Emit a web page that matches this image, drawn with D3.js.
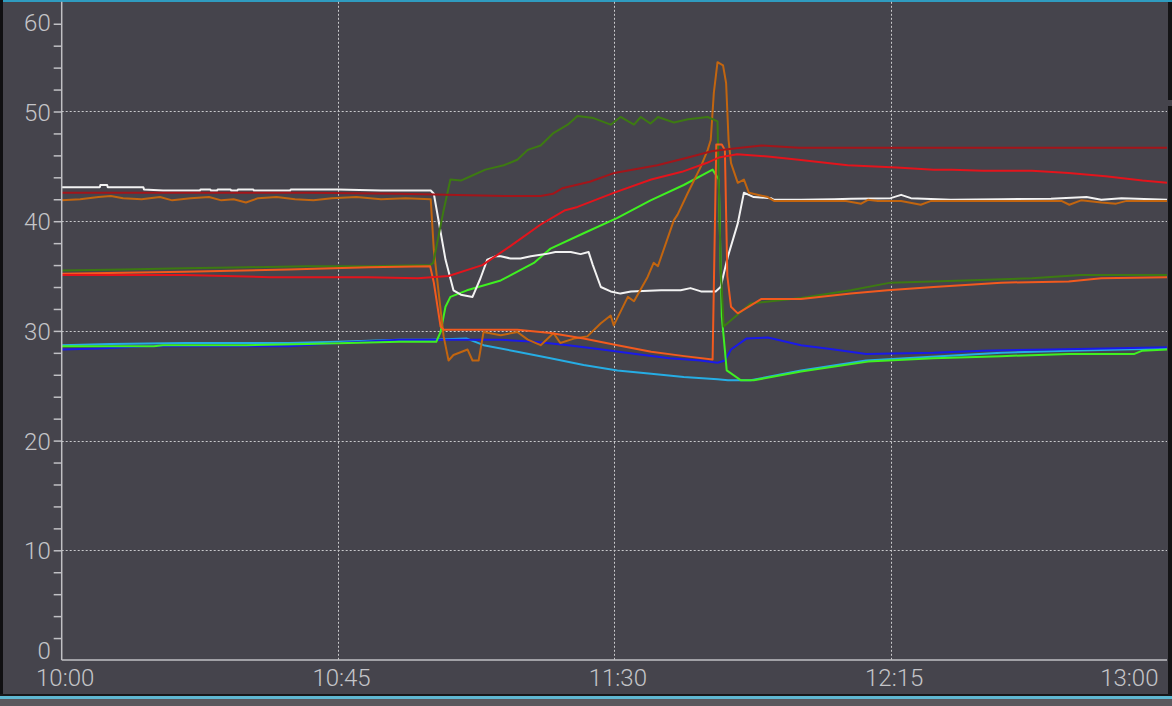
<!DOCTYPE html>
<html>
<head>
<meta charset="utf-8">
<script src="https://cdn.jsdelivr.net/npm/d3@7"></script>
<style>
  html, body { margin: 0; padding: 0; background: #45444c; overflow: hidden; }
  svg { display: block; }
  text { font-family: Roboto, "DejaVu Sans", sans-serif; font-weight: 300; }
</style>
</head>
<body>
<svg id="chart" width="1172" height="706"></svg>
<script>
// ---- data: [minutes after 10:00, value] ----
const xTickMinutes = [0, 45, 90, 135, 180];
const yTickValues = [0, 10, 20, 30, 40, 50, 60];

const seriesNames = ["cyan", "blue", "lime", "white", "brown", "darkGreen", "orangeRed", "red", "darkRed"];
const seriesColors = ["#26ade4", "#1a1ae8", "#3ff021", "#f2f2f2", "#c2650f", "#3d7a12", "#f25a1e", "#e3141c", "#a3151a"];

const cyan = [[0,28.7],[8,28.8],[20,28.9],[37,28.9],[45,29.0],[55,29.2],[60,29.2],[66,29.3],[68.7,28.7],[74.2,28.1],[79.6,27.5],[85,26.9],[90.5,26.4],[96,26.1],[101.3,25.8],[106.8,25.6],[108.5,25.5],[112.2,25.5],[120.4,26.4],[131,27.3],[153,28.0],[164,28.2],[180,28.4]];
const blue = [[0,28.3],[6,28.4],[14,28.6],[37,28.6],[45,28.9],[55,29.2],[60,29.2],[71.5,29.2],[77,29.0],[82.5,28.7],[88,28.3],[93.5,27.9],[99,27.5],[104,27.3],[106.8,27.1],[108,27.3],[109,28.3],[111.5,29.3],[115,29.4],[120.4,28.7],[125.8,28.3],[131,27.9],[142,28.0],[150,28.2],[161,28.3],[170,28.4],[180,28.5]];
const lime = [[0,28.6],[15,28.6],[16.5,28.7],[30,28.7],[40,28.8],[55,29.0],[61,29.0],[61.7,29.9],[62.5,32.2],[63.3,33.1],[66,33.7],[71.5,34.6],[76.9,36.2],[79.6,37.5],[85,38.9],[90.5,40.3],[95.9,41.9],[101.3,43.3],[106,44.7],[107,43.8],[107.5,31.3],[108.3,26.4],[110.6,25.5],[112.7,25.5],[120.4,26.3],[131.3,27.2],[142,27.5],[153,27.7],[164,27.9],[174.7,27.9],[176,28.2],[180,28.3]];
const white = [[0,43.1],[6.2,43.1],[6.3,43.3],[7.4,43.3],[7.5,43.1],[13.3,43.1],[13.4,42.9],[16.5,42.8],[22.5,42.8],[22.6,42.9],[24.2,42.9],[24.3,42.8],[25.3,42.8],[25.4,42.9],[27.5,42.9],[27.6,42.8],[28.6,42.8],[28.7,42.9],[31.2,42.9],[31.3,42.8],[37.2,42.8],[37.3,42.9],[45,42.9],[52,42.8],[60.1,42.8],[60.6,42.5],[62.5,36.5],[63.8,33.7],[65,33.3],[66.9,33.1],[68.2,34.8],[69.3,36.5],[70.6,36.8],[71.5,36.8],[73.1,36.6],[74.7,36.6],[76.4,36.8],[78.8,37.0],[80.4,37.2],[82.9,37.2],[84.5,37.0],[85.8,37.2],[86.5,36.0],[87.8,34.0],[89.4,33.6],[91,33.4],[92.7,33.6],[97.6,33.7],[100.8,33.7],[102.4,33.9],[104.1,33.6],[106.5,33.6],[107.3,34.0],[108.5,36.8],[110.1,39.8],[111.1,42.6],[112.7,42.2],[115.5,42.1],[116,41.95],[120.4,41.95],[125.8,42.0],[128.5,42.05],[135,42.1],[136.7,42.4],[138.3,42.1],[144.8,41.95],[153,42.0],[161.1,42.05],[166.9,42.2],[169.3,41.95],[172.6,42.1],[180,41.95]];
const brown = [[0,41.9],[3,42.0],[6,42.2],[8,42.3],[10,42.1],[13,42.0],[16,42.2],[18,41.9],[21,42.1],[24,42.2],[26,41.9],[28,42.0],[30,41.7],[32,42.1],[35,42.2],[38,42.0],[41,41.9],[44,42.1],[48,42.2],[52,42.0],[56,42.1],[60.1,42.0],[60.6,37.4],[62.2,29.5],[63,27.3],[63.8,27.8],[66.1,28.3],[66.9,27.3],[67.9,27.3],[68.7,29.9],[71.5,29.6],[74.2,29.9],[75.9,29.2],[78,28.7],[80.1,29.8],[81.2,28.9],[83.4,29.3],[85.6,29.5],[87.8,30.7],[89.4,31.4],[89.9,30.5],[92.2,33.1],[93.2,32.7],[95.4,34.9],[96.4,36.2],[97.1,35.9],[99.7,40.1],[100.3,40.6],[101.9,42.5],[104.1,45.0],[105.2,46.5],[105.7,47.4],[106.2,51.7],[106.8,54.5],[107.7,54.2],[108.2,52.6],[108.6,47.4],[109,45.3],[110.1,43.5],[111.1,43.8],[111.9,42.6],[115,42.2],[116,41.85],[125.8,41.85],[127.7,41.85],[130.2,41.6],[131.3,41.95],[132.9,41.85],[136.7,41.85],[139.9,41.5],[141.6,41.85],[144.8,41.85],[153,41.85],[162.8,41.85],[164.1,41.5],[166,41.9],[169.3,41.7],[171.7,41.6],[173.4,41.85],[180,41.85]];
const darkGreen = [[0,35.5],[10,35.6],[20,35.7],[30,35.8],[40,35.9],[50,35.9],[60,36.0],[60.5,36.2],[62.2,41.0],[63.3,43.8],[65,43.7],[66.6,44.1],[69,44.7],[72,45.1],[74.2,45.6],[75.9,46.5],[78,46.9],[80,48.0],[82.4,48.8],[84,49.6],[86.6,49.4],[89.4,48.8],[91,49.5],[93.2,48.8],[94.3,49.5],[95.9,48.9],[97.1,49.5],[99.7,49.0],[102,49.3],[105.2,49.5],[106.8,49.1],[107.3,36],[107.8,30.4],[112.2,32.5],[120.4,33.0],[128.5,33.7],[135,34.4],[147,34.6],[158,34.8],[166,35.1],[180,35.1]];
const orangeRed = [[0,35.2],[10,35.3],[20,35.4],[37,35.6],[50,35.8],[60,35.9],[60.6,34.4],[61.7,30.4],[62.2,30.1],[74.2,30.1],[79.6,29.8],[85,29.3],[90.5,28.7],[96,28.1],[101.4,27.7],[106,27.4],[106.6,47.0],[107.5,47.0],[108,46.5],[108.4,35],[109,32.2],[110.1,31.6],[113.9,32.9],[120.4,32.9],[128.5,33.4],[134.5,33.7],[142,34.0],[153,34.4],[164,34.5],[169.3,34.8],[180,34.9]];
const red = [[0,35.1],[20,35.1],[34,34.9],[50,34.9],[58,34.8],[63,35.0],[68.5,36.0],[73,37.7],[78,39.7],[82,41.0],[84,41.3],[90,42.6],[96,43.8],[101,44.5],[105,45.3],[107,45.8],[110,46.1],[115,45.9],[120,45.6],[128,45.1],[136,44.9],[142,44.7],[145,44.7],[150,44.6],[158,44.6],[164,44.4],[170,44.1],[176,43.7],[180,43.5]];
const darkRed = [[0,42.6],[40,42.6],[55,42.5],[72,42.3],[78,42.3],[80,42.5],[81.5,43.0],[86,43.6],[90,44.4],[97,45.1],[102,45.8],[106,46.4],[110.6,46.7],[114,46.9],[120,46.7],[180,46.7]];

const seriesData = [cyan, blue, lime, white, brown, darkGreen, orangeRed, red, darkRed];

// ---- drawing ----
(function () {
const svg = d3.select("#chart");
const W = 1172, H = 706;
const plotLeft = 61.7, plotRight = 1167, plotTop = 1.8, plotBottom = 660;
const t0 = new Date(2000, 0, 1, 10, 0, 0);
const toDate = m => new Date(t0.getTime() + m * 60000);

const x = d3.scaleTime().domain([toDate(0), toDate(180)]).range([plotLeft, plotRight]);
const y = d3.scaleLinear().domain([0, 60]).range([plotBottom, plotTop]);

// background & frame
svg.append("rect").attr("x", 0).attr("y", 0).attr("width", W).attr("height", H).attr("fill", "#45444c");
svg.append("rect").attr("x", 0).attr("y", 0).attr("width", W).attr("height", 2).attr("fill", "#2f9cc0");
svg.append("rect").attr("x", 0).attr("y", 0).attr("width", 3).attr("height", 696).attr("fill", "#101012");
svg.append("rect").attr("x", 1168).attr("y", 2).attr("width", 4).attr("height", 98).attr("fill", "#141416");
svg.append("rect").attr("x", 1168).attr("y", 106).attr("width", 4).attr("height", 590).attr("fill", "#141416");
svg.append("rect").attr("x", 0).attr("y", 694).attr("width", W).attr("height", 2).attr("fill", "#18181a");
svg.append("rect").attr("x", 0).attr("y", 696).attr("width", W).attr("height", 3).attr("fill", "#5fb8d2");
svg.append("rect").attr("x", 0).attr("y", 699).attr("width", W).attr("height", 7).attr("fill", "#59585d");

// grid lines
const grid = svg.append("g").attr("stroke", "#c9c9cc").attr("stroke-width", 1).attr("stroke-dasharray", "2,2");
grid.selectAll(".hg").data([10, 20, 30, 40, 50]).join("line")
  .attr("x1", plotLeft).attr("x2", plotRight)
  .attr("y1", d => Math.round(y(d)) + 0.5).attr("y2", d => Math.round(y(d)) + 0.5);
grid.selectAll(".vg").data([45, 90, 135]).join("line")
  .attr("y1", plotTop).attr("y2", plotBottom)
  .attr("x1", d => Math.round(x(toDate(d))) + 0.5).attr("x2", d => Math.round(x(toDate(d))) + 0.5);

// series lines
const line = d3.line().x(d => x(toDate(d[0]))).y(d => y(d[1]));
const lines = svg.append("g").attr("fill", "none").attr("stroke-width", 2).attr("stroke-linejoin", "round");
seriesData.forEach((s, i) => {
  lines.append("path").datum(s).attr("d", line).attr("stroke", seriesColors[i]).attr("class", seriesNames[i]);
});

// y axis
const yAxis = d3.axisLeft(y)
  .tickValues(d3.range(0, 61, 2))
  .tickSize(8)
  .tickFormat(d => (yTickValues.includes(d) ? String(d) : ""));
const gy = svg.append("g").attr("transform", `translate(${plotLeft},0)`).call(yAxis);
gy.select(".domain").attr("stroke", "#c0c0c4").attr("stroke-width", 1.5).attr("d", `M0,${plotTop}V${plotBottom}`);
gy.selectAll(".tick line").attr("stroke", "#c0c0c4").attr("stroke-width", 1.5);
gy.selectAll(".tick").filter(d => d === 60 || d === 0).select("line").remove();
gy.selectAll(".tick text").attr("fill", "#c4c4c8").attr("font-size", 24).attr("x", -11).attr("dy", "0.36em");
gy.selectAll(".tick").filter(d => d === 60).select("text").attr("y", 20);
gy.selectAll(".tick").filter(d => d === 0).select("text").attr("y", -10);

// x axis
const xAxis = d3.axisBottom(x)
  .tickValues(xTickMinutes.map(toDate))
  .tickSize(0)
  .tickFormat(d3.timeFormat("%H:%M"));
const gx = svg.append("g").attr("transform", `translate(0,${plotBottom})`).call(xAxis);
gx.select(".domain").attr("stroke", "#c0c0c4").attr("stroke-width", 1.5).attr("d", `M${plotLeft},0H${plotRight}`);
gx.selectAll(".tick text").attr("fill", "#c4c4c8").attr("font-size", 24).attr("y", 9).attr("dy", "0.71em").attr("x", 3);
gx.selectAll(".tick").filter((d, i) => i === xTickMinutes.length - 1).select("text")
  .attr("text-anchor", "end").attr("x", 1158 - plotRight);
})();
</script>
</body>
</html>
